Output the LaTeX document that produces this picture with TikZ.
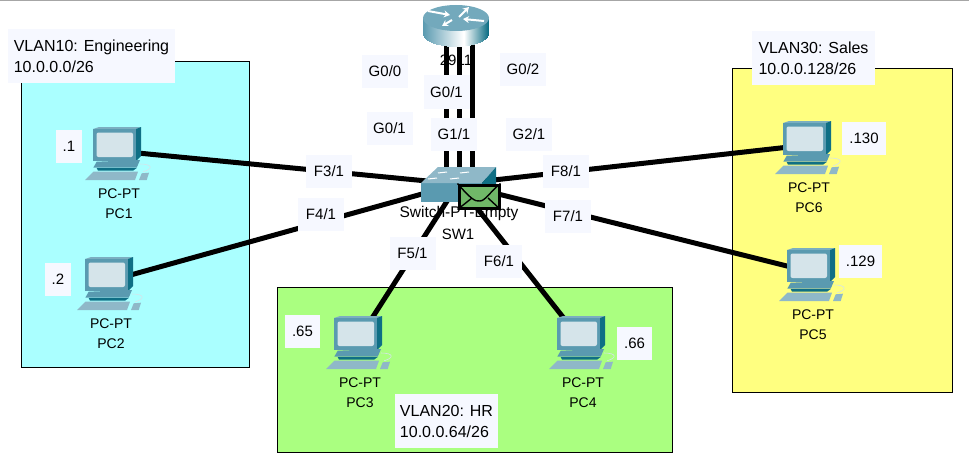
\documentclass[tikz,border=0pt]{standalone}
\usepackage{fontspec}
\setmainfont{Liberation Sans}
\usetikzlibrary{arrows.meta}
\definecolor{notebg}{HTML}{F6F8FF}
\definecolor{vlanA}{HTML}{AAFFFF}
\definecolor{vlanB}{HTML}{AAFF80}
\definecolor{vlanC}{HTML}{FFFF80}
\definecolor{teal}{HTML}{5A9AB0}
\definecolor{tealdark}{HTML}{0F6F85}
\definecolor{teallight}{HTML}{8FB8C8}
\definecolor{screen}{HTML}{D5E4EA}
\definecolor{mail}{HTML}{70B868}
\tikzset{
	vlan/.style={draw=black, line width=1pt},
	link/.style={line width=5pt},
	port/.style={fill=notebg, inner sep=0pt, minimum width=46pt, minimum height=33pt, font=\fontsize{15}{18}\selectfont},
	addr/.style={port, fill=notebg, minimum width=#1},
	note/.style={fill=notebg, inner sep=0pt, align=left, font=\fontsize{16}{21}\selectfont},
	devtext/.style={inner sep=0pt, align=center, font=\fontsize{14}{20.5}\selectfont},
	pcicon/.pic={
		\begin{scope}[shift={(-24,-24)}]
			\fill[teal!80] (0,2) -- (6,0) -- (48,0) -- (43,2) -- cycle;
			\fill[tealdark] (43,2) -- (48,0) -- (48,29) -- (43,34) -- cycle;
			\fill[teal] (0,2) rectangle (43,34);
			\fill[screen, rounded corners=2pt] (3.5,5.5) rectangle (40,30);
			\fill[teal] (0.3,40.7) -- (3.7,34.7) -- (47,33) -- (43.7,40.7) -- cycle;
			\fill[tealdark] (3.7,41) -- (43.7,41) -- (40,43.7) -- (5,43.7) -- cycle;
			\fill[teallight] (-8,53) -- (0.3,44.7) -- (45,44.7) -- (42,53) -- cycle;
			\fill[teallight] (46,53) -- (48.7,46.3) -- (56,45.7) -- (53.7,53) -- cycle;
			\draw[screen, line width=.6pt] (50.3,44.7) .. controls (60,42) and (60,37) .. (47,37);
		\end{scope}
	},
	switchicon/.pic={
		\fill[teal] (-37,-1) rectangle (24,18);
		\fill[teallight] (-37,-1) -- (-20,-17) -- (38,-17) -- (24,-1) -- cycle;
		\fill[tealdark] (24,-1) -- (38,-17) -- (38,0) -- (24,18) -- cycle;
		\foreach \x/\y in {-20/-11, 2/-11, -30/-5, -8/-5} {
			\draw[white, line width=1pt] (\x,\y) -- ++(9,-1);
		}
	},
	routericon/.pic={
		% side of the drum, in strips
		\foreach \i in {-33,...,7} {
			\pgfmathsetmacro{\mixval}{100*(7-\i)/40}
			\fill[teal!\mixval!white] (\i,0) -- (\i+1.3,0) -- (\i+1.3,{16+13*sqrt(max(0,1-(\i+.6)*(\i+.6)/1089))}) -- (\i,{16+13*sqrt(max(0,1-(\i+.6)*(\i+.6)/1089))}) -- cycle;
		}
		\foreach \i in {8,...,32} {
			\pgfmathsetmacro{\mixval}{100*(\i-8)/24}
			\fill[tealdark!\mixval!white] (\i,0) -- (\i+1.3,0) -- (\i+1.3,{16+13*sqrt(max(0,1-(\i+.6)*(\i+.6)/1089))}) -- (\i,{16+13*sqrt(max(0,1-(\i+.6)*(\i+.6)/1089))}) -- cycle;
		}
		\fill[teal!85] (0,0) ellipse[x radius=33, y radius=13];
		\foreach \a/\b/\c/\d in {-28/-7/-6/-3, 3/-1/13/-11, 28/3/7/1, -4/2/-14/8} {
			\draw[white, line width=2pt, -{Stealth[length=6pt,width=7pt]}] (\a,\b) -- (\c,\d);
		}
	}
}
\begin{document}
\begin{tikzpicture}[x=1pt, y=-1pt]
	\useasboundingbox (0,0) rectangle (969,460);
	\fill[gray!70] (0,0) rectangle (969,1.5);
	% vlan areas
	\fill[vlanA, draw=black, vlan] (21,62) rectangle (249,367);
	\fill[vlanB, draw=black, vlan] (277,287) rectangle (672,452);
	\fill[vlanC, draw=black, vlan] (732,69) rectangle (952,392);
	% devices
	\node[inner sep=0pt] (pc1) at (117,151) {};
	\node[inner sep=0pt] (pc2) at (109,281) {};
	\node[inner sep=0pt] (pc3) at (358,340) {};
	\node[inner sep=0pt] (pc4) at (581,340) {};
	\node[inner sep=0pt] (pc5) at (811,272) {};
	\node[inner sep=0pt] (pc6) at (807,145) {};
	\node[inner sep=0pt] (sw1) at (458,184) {};
	\node[inner sep=0pt] (r1) at (456,18) {};
	\coordinate (r1a) at (446,44);
	\coordinate (r1b) at (459,44);
	\coordinate (r1c) at (472,44);
	\coordinate (sw1a) at (446,172);
	\coordinate (sw1b) at (459,172);
	\coordinate (sw1c) at (472,172);
	% device names
	\node[devtext, font=\fontsize{15}{18}\selectfont] (r1name) at (456,60) {2911};
	\node[devtext, font=\fontsize{15.5}{18}\selectfont] (sw1model) at (459,213) {Switch-PT-Empty};
	\node[devtext, font=\fontsize{15}{18}\selectfont] (sw1name) at (458,234) {SW1};
	\node[devtext] (pc1name) at (119,203.5) {PC-PT\\PC1};
	\node[devtext] (pc2name) at (111,333.5) {PC-PT\\PC2};
	\node[devtext] (pc3name) at (360,392.5) {PC-PT\\PC3};
	\node[devtext] (pc4name) at (583,392.5) {PC-PT\\PC4};
	\node[devtext] (pc5name) at (813,324.5) {PC-PT\\PC5};
	\node[devtext] (pc6name) at (809,197.5) {PC-PT\\PC6};
	% links
	\draw[link] (pc1.center) to (sw1.center);
	\draw[link] (pc2.center) to (sw1.center);
	\draw[link] (pc3.center) to (sw1.center);
	\draw[link] (pc4.center) to (sw1.center);
	\draw[link] (pc5.center) to (sw1.center);
	\draw[link] (pc6.center) to (sw1.center);
	\draw[link] (r1a) to (sw1a);
	\draw[link] (r1b) to (sw1b);
	\draw[link] (r1c) to (sw1c);
	% icons
	\pic at (pc1) {pcicon};
	\pic at (pc2) {pcicon};
	\pic at (pc3) {pcicon};
	\pic at (pc4) {pcicon};
	\pic at (pc5) {pcicon};
	\pic at (pc6) {pcicon};
	\pic at (sw1) {switchicon};
	\pic at (r1) {routericon};
	% envelope
	\node[draw=black, fill=mail, line width=3pt, minimum width=40pt, minimum height=23pt, inner sep=0pt] (msg) at (479,196.5) {};
	\draw[line width=1.4pt] (msg.north west) .. controls (470,198) and (475,202) .. (480,201) .. controls (485,201) and (490,192) .. (msg.north east);
	\draw[line width=1.4pt] (msg.south west) to (472,198);
	\draw[line width=1.4pt] (msg.south east) to (488,198);
	% port labels
	\node[port] (g00) at (385,71.5) {G0/0};
	\node[port] (g01r) at (446.5,92) {G0/1};
	\node[port] (g02) at (523,69.5) {G0/2};
	\node[port] (g01s) at (389.5,128.5) {G0/1};
	\node[port] (g11) at (454,134) {G1/1};
	\node[port] (g21) at (529,134.5) {G2/1};
	\node[port] (f31) at (329,171) {F3/1};
	\node[port] (f41) at (321,214) {F4/1};
	\node[port] (f51) at (412.5,253) {F5/1};
	\node[port] (f61) at (499,261) {F6/1};
	\node[port] (f71) at (568,216.5) {F7/1};
	\node[port] (f81) at (566,171.5) {F8/1};
	% addresses
	\node[addr=26pt] (ip1) at (69,146.5) {.1};
	\node[addr=26pt] (ip2) at (58,279.5) {.2};
	\node[addr=35pt] (ip3) at (302.5,331.5) {.65};
	\node[addr=35pt] (ip4) at (634.5,343) {.66};
	\node[addr=43pt] (ip5) at (860.5,261.5) {.129};
	\node[addr=44pt] (ip6) at (864,138.5) {.130};
	% vlan notes
	\node[note, minimum width=167pt, minimum height=54pt] (vlan10) at (91.5,56) {VLAN10: Engineering\\10.0.0.0/26};
	\node[note, minimum width=103pt, minimum height=54pt] (vlan20) at (446.5,421) {VLAN20: HR\\10.0.0.64/26};
	\node[note, minimum width=123pt, minimum height=54pt] (vlan30) at (813.5,58) {VLAN30: Sales\\10.0.0.128/26};
\end{tikzpicture}
\end{document}
